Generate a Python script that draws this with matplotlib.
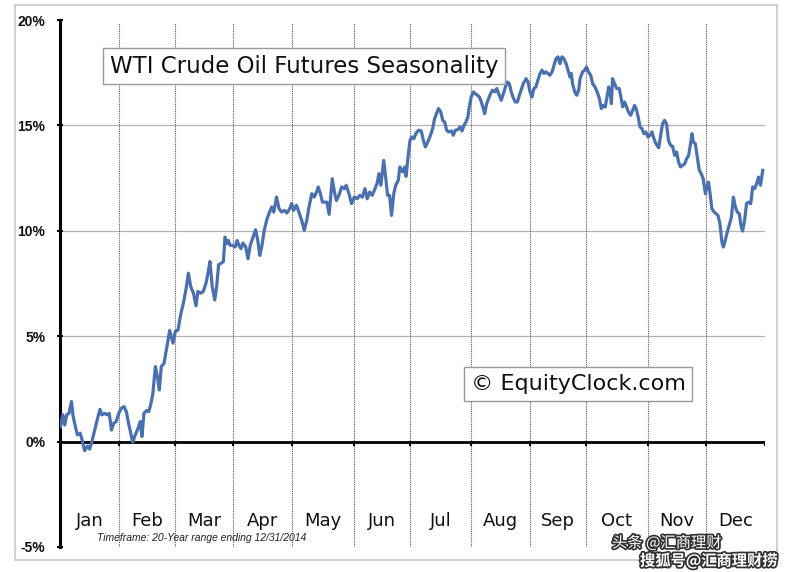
import matplotlib
matplotlib.use("Agg")
import matplotlib.pyplot as plt
from matplotlib.patches import Rectangle
import matplotlib.patheffects as pe

# ---- data (x = trading day of year, y = seasonal % gain) ----
days = [0.2, 1.0, 1.7, 2.4, 3.2, 4.1, 4.7, 5.5, 6.2, 7.2, 7.9, 8.8, 9.8, 10.6, 11.4,
        12.4, 13.3, 14.3, 15.0, 16.0, 16.8, 17.6, 18.4, 19.2, 20.1, 21.0, 21.9, 22.9,
        23.7, 24.5, 25.3, 26.0, 26.9, 27.9, 28.7, 29.3, 30.0, 30.9, 31.7, 32.4, 33.2,
        34.1, 34.8, 35.5, 36.2, 37.2, 38.0, 39.2, 40.4, 41.2, 42.2, 43.1, 44.1, 45.0,
        45.9, 46.7, 47.7, 48.6, 49.3, 50.3, 51.2, 52.2, 52.9, 53.6, 54.4, 55.3, 56.0,
        56.7, 57.7, 58.4,
        59.0, 59.6, 60.2, 60.8, 61.6, 62.6, 63.3, 64.0, 64.7, 65.4, 66.4, 67.2, 68.0,
        69.0, 69.9, 70.7, 71.4, 72.1, 73.0, 74.0, 74.9, 75.7, 76.4, 77.4, 78.3, 79.2,
        80.2, 81.1, 82.1, 82.8, 83.5, 84.5, 85.4, 86.4, 87.3, 88.2, 89.0, 90.0, 90.9,
        91.7, 92.3, 93.1, 93.8, 94.7, 95.4, 96.2, 96.7, 97.3, 98.1, 98.8, 99.7, 100.7,
        101.6, 102.3, 103.3, 104.2, 105.2, 106.2, 107.1, 108.1, 109.0, 109.8, 110.7,
        111.6, 112.6, 113.3, 114.0, 114.7, 115.7, 116.4, 117.1, 117.8, 118.5, 119.3,
        120.0, 120.9,
        121.5, 122.5, 123.2, 123.7, 124.4, 125.1, 125.8, 126.5, 127.2, 128.2, 129.1,
        129.9, 130.6, 131.3, 132.2, 133.2, 133.9, 134.6, 135.3, 136.1, 136.8, 137.5,
        138.2, 138.9, 139.9, 140.6, 141.3, 142.2, 143.0, 143.7, 144.4, 145.1, 145.8,
        146.3, 147.0, 147.7, 148.4, 149.2, 149.9, 150.6, 151.3, 151.8, 152.5, 153.2,
        153.9, 154.6, 155.4, 156.1, 156.8, 157.7, 158.5, 159.2, 159.9, 160.6, 161.3,
        162.0, 162.7, 163.5, 164.2, 164.9, 165.6, 166.6, 167.3, 168.0, 168.7, 169.4,
        170.1, 170.8, 171.6, 172.3, 173.0, 173.7, 174.4, 175.1, 175.9, 176.6, 177.3,
        178.0, 178.7, 179.4, 180.1, 180.9, 181.6, 182.3, 182.8, 183.2, 184.0, 184.7,
        185.4, 185.9,
        186.8, 187.5, 188.2, 188.9, 189.7, 190.4, 191.2, 192.0, 192.8, 193.5, 194.2,
        194.9, 195.6, 196.1, 196.6, 197.1, 197.5, 198.2, 199.0, 199.9, 200.6, 201.1,
        201.8, 202.5, 203.2, 204.0, 204.7, 205.4, 206.1, 206.8, 207.3, 208.0, 208.7,
        209.4, 210.2, 210.9, 211.6, 212.3, 213.0, 214.0, 214.7, 215.4, 216.1, 216.8,
        217.5, 218.3, 219.0, 219.7, 220.4, 221.1, 221.8, 222.6, 223.3, 224.0, 224.7,
        225.4, 225.9, 226.4, 227.1, 227.8, 228.5, 229.2, 229.9, 230.7, 231.4, 231.8,
        232.3, 233.0, 233.8, 234.5, 235.2, 235.9, 236.6, 237.1, 237.8, 238.5, 239.2,
        240.0, 240.7, 241.4, 242.1, 242.8, 243.5, 244.0, 244.7, 245.4, 246.1, 246.9,
        247.6, 248.3, 249.0, 249.7, 250.4, 251.2]

pct = [0.71, 1.27, 0.79, 1.27, 1.34, 1.90, 1.19, 0.71, 0.32, 0.40, 0.08, -0.43, -0.21,
       -0.36, 0.00, 0.55, 1.03, 1.53, 1.27, 1.34, 1.27, 1.34, 0.55, 0.87, 0.95, 1.34,
       1.58, 1.66, 1.42, 0.87, 0.40, -0.03, 0.32, 0.63, 0.95, 0.24, 1.34, 1.47, 1.42,
       1.74, 2.29, 3.56, 3.09, 2.45, 3.56, 3.72, 4.35, 5.27, 4.67, 5.22, 5.30, 6.01,
       6.57, 7.20, 7.99, 7.36, 7.04, 6.44, 7.12, 7.04, 7.12, 7.52, 7.99, 8.54, 7.36,
       6.72, 7.36, 8.39, 8.47, 8.54,
       9.70, 9.39, 9.54, 9.31, 9.31, 9.23, 9.54, 9.31, 9.15, 9.42, 9.23, 8.67, 9.31,
       9.70, 10.05, 9.54, 8.83, 9.23, 10.02, 10.57, 10.89, 11.13, 10.89, 11.60, 11.05,
       10.89, 10.97, 10.84, 11.05, 11.29, 10.97, 11.21, 10.89, 10.49, 10.02, 10.49,
       11.13, 11.76, 11.60, 11.84, 12.08, 11.76, 11.36, 11.36, 11.36, 10.78, 11.52,
       12.47, 11.84, 11.44, 11.68, 12.08, 12.00, 12.16, 11.76, 11.29, 11.60, 11.52,
       11.68, 11.60, 12.00, 11.52, 11.84, 11.68, 12.00, 12.23, 12.71, 12.16, 13.34,
       12.55, 11.68, 11.68, 10.73, 11.76, 12.16, 12.39,
       13.03, 12.79, 13.03, 12.58, 13.50, 14.29, 14.45, 14.37, 14.61, 14.77, 14.74,
       14.29, 13.98, 14.17, 14.45, 14.85, 15.32, 15.56, 15.80, 15.64, 15.24, 15.16,
       14.77, 14.69, 14.74, 14.53, 14.77, 14.80, 14.93, 14.74, 15.00, 15.16, 15.40,
       15.88, 16.35, 16.59, 16.51, 16.43, 16.35, 16.11, 15.80, 15.56, 16.03, 16.27,
       16.51, 16.67, 16.59, 16.75, 16.51, 16.19, 16.51, 16.82, 17.06, 16.98, 16.59,
       16.32, 16.11, 16.11, 16.43, 16.70, 16.98, 17.22, 17.06, 16.59, 16.35, 16.75,
       16.82, 17.14, 17.46, 17.62, 17.46, 17.54, 17.46, 17.38, 17.54, 17.85, 18.17,
       18.25, 17.93, 18.25, 18.17, 17.93, 17.62, 17.30, 17.46, 16.98, 16.59, 16.43,
       16.67, 17.22,
       17.54, 17.62, 17.77, 17.54, 17.38, 16.98, 16.83, 16.59, 16.27, 15.80, 15.95,
       15.87, 16.43, 16.82, 16.59, 16.03, 17.22, 16.98, 16.75, 16.75, 16.27, 15.88,
       16.11, 15.88, 15.64, 15.48, 15.72, 15.95, 15.72, 15.32, 14.93, 14.85, 14.61,
       14.69, 14.45, 14.53, 14.69, 14.37, 14.13, 13.94, 14.53, 15.08, 15.24, 15.08,
       14.29, 14.05, 14.00, 13.58, 13.74, 13.26, 13.03, 13.11, 13.18, 13.42, 13.58,
       14.13, 14.61, 14.21, 14.13, 13.50, 12.87, 12.71, 12.47, 11.76, 12.16, 12.31,
       11.84, 11.05, 10.89, 10.81, 10.73, 10.34, 9.47, 9.23, 9.54, 9.94, 10.26,
       10.65, 11.60, 11.13, 10.89, 10.81, 10.18, 9.99, 10.49, 11.29, 11.36, 11.29,
       12.08, 12.00, 12.23, 12.55, 12.16, 12.87]

month_labels = ["Jan", "Feb", "Mar", "Apr", "May", "Jun",
                "Jul", "Aug", "Sep", "Oct", "Nov", "Dec"]
month_bounds = [0, 21, 41, 62, 83, 105, 125, 147, 168, 188, 210, 231, 252]
y_ticks = [-5, 0, 5, 10, 15, 20]

title = "WTI Crude Oil Futures Seasonality"
credit = "\u00a9 EquityClock.com"
timeframe = "Timeframe: 20-Year range ending 12/31/2014"

W, H = 791, 572
fig = plt.figure(figsize=(W / 100, H / 100), dpi=100)
fig.patch.set_facecolor("white")

# outer frame
fig.patches.append(Rectangle((15 / W, 1 - 560 / H), 762 / W, 555 / H,
                             transform=fig.transFigure, fill=False,
                             edgecolor="#c8c8c8", linewidth=1.2))

ax = fig.add_axes([60 / W, 1 - 547 / H, 705 / W, 527 / H])
ax.set_xlim(month_bounds[0], month_bounds[-1])
ax.set_ylim(-5, 20)
ax.set_facecolor("white")

for s in ["top", "right", "bottom"]:
    ax.spines[s].set_visible(False)
ax.spines["left"].set_linewidth(2.2)
ax.spines["left"].set_color("black")

# grid lines
for yv in [5, 10, 15]:
    ax.axhline(yv, color="#b4b4b4", linewidth=0.9, zorder=1)
for xb in month_bounds[1:-1]:
    ax.plot([xb, xb], [-5, 19.85], color="#555555", linewidth=0.8,
            linestyle=(0, (1, 1)), zorder=1)

# zero line with month ticks
ax.plot([month_bounds[0], month_bounds[-1]], [0, 0], color="black",
        linewidth=2.0, zorder=2)
for xb in month_bounds[1:]:
    ax.plot([xb, xb], [0, -0.18], color="black", linewidth=1.5, zorder=2)

# series
ax.plot(days, pct, color="#4a70b0", linewidth=2.3, zorder=3,
        solid_joinstyle="round")

# y axis
ax.set_yticks(y_ticks)
ax.set_yticklabels([f"{v}%" for v in y_ticks], fontfamily="Liberation Sans",
                   fontsize=10, fontweight="bold", color="#111111")
ax.tick_params(axis="y", direction="inout", length=5, width=1.5, pad=8)
ax.set_xticks([])

# month labels
for i, m in enumerate(month_labels):
    xc = (month_bounds[i] + month_bounds[i + 1]) / 2
    ax.text(xc, -3.78, m, ha="center", va="center", fontsize=13,
            fontfamily="DejaVu Sans", color="#111111")

fig.text(97 / W, 1 - 538 / H, timeframe, fontsize=7.5, style="italic",
         fontfamily="Liberation Sans", color="#222222", va="center", ha="left")

# title box
fig.text(304 / W, 1 - 66 / H, title, fontsize=16.5, fontfamily="DejaVu Sans",
         color="#111111", ha="center", va="center",
         bbox=dict(boxstyle="square,pad=0.3", facecolor="white",
                   edgecolor="#9a9a9a", linewidth=1.0))

# credit box
fig.text(578 / W, 1 - 384 / H, credit, fontsize=16, fontfamily="DejaVu Sans",
         color="#111111", ha="center", va="center",
         bbox=dict(boxstyle="square,pad=0.3", facecolor="white",
                   edgecolor="#9a9a9a", linewidth=1.0))

# watermark
wm_fx = [pe.withStroke(linewidth=2.5, foreground="#333333")]
fig.text(612 / W, 1 - 543 / H, "头条 @汇商理财", fontsize=11,
         fontfamily=["Noto Sans CJK SC", "DejaVu Sans"], color="white",
         ha="left", va="center", path_effects=wm_fx)
fig.text(640 / W, 1 - 561 / H, "搜狐号@汇商理财捞", fontsize=11,
         fontfamily=["Noto Sans CJK SC", "DejaVu Sans"], color="white",
         fontweight="bold", ha="left", va="center", path_effects=wm_fx)

fig.savefig("out.png", dpi=100, facecolor="white")
